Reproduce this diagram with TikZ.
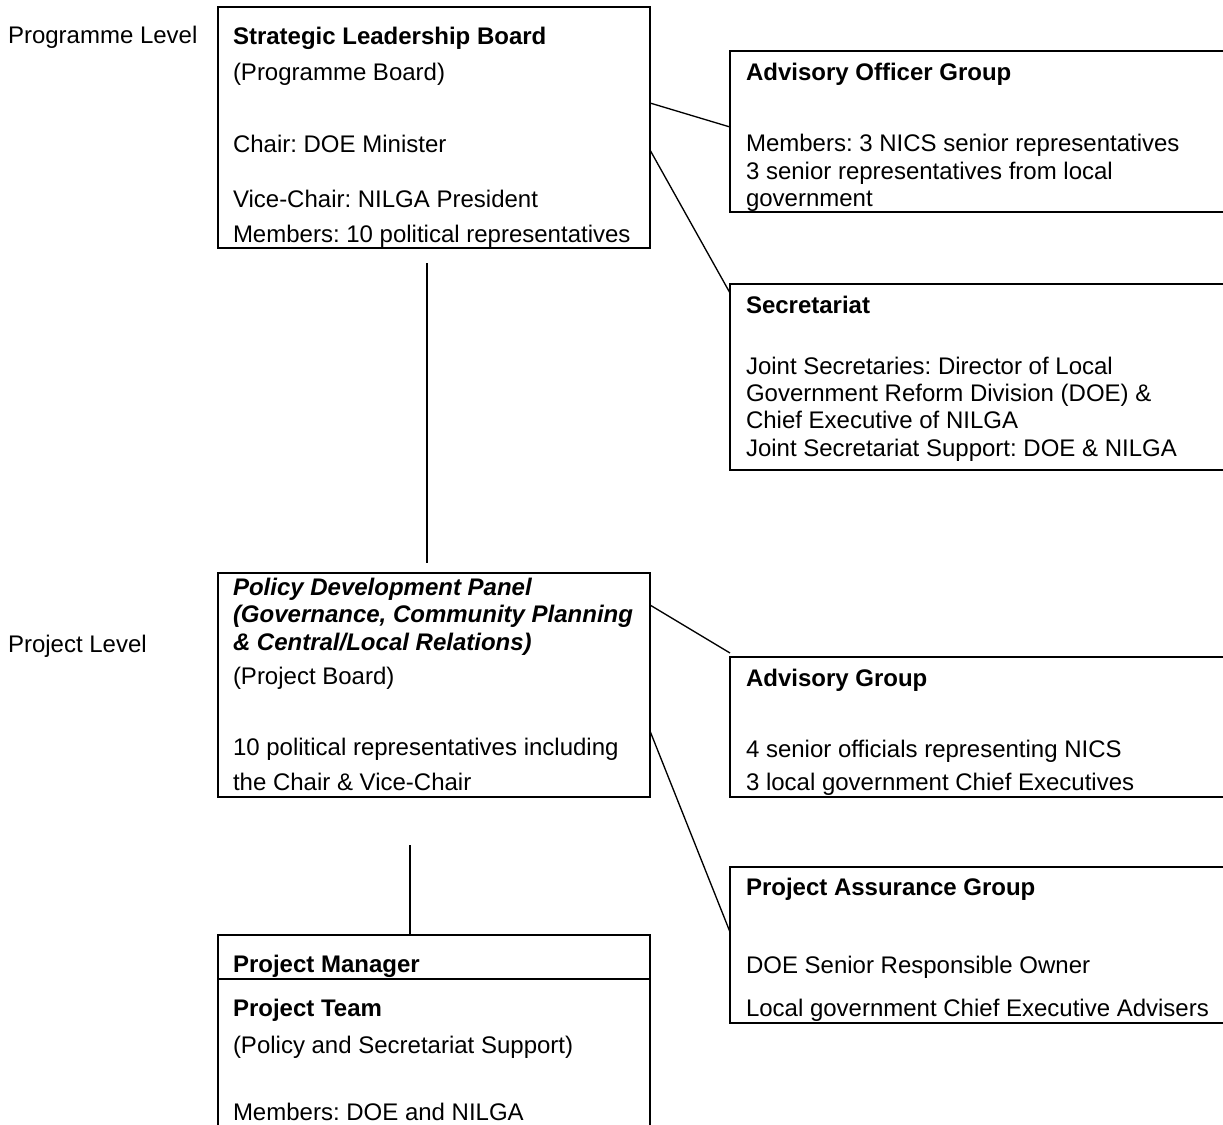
\documentclass[tikz,border=0pt]{standalone}
\usepackage{fontspec}
\setmainfont{Liberation Sans}
\usetikzlibrary{calc}
\frenchspacing
\begin{document}
\begin{tikzpicture}[x=0.75pt,y=-0.75pt,
  box/.style={draw, rectangle, inner sep=0pt, outer sep=0pt, anchor=north west, line width=1pt},
  txt/.style={anchor=base west, inner sep=0pt, outer sep=0pt, font=\fontsize{18pt}{21pt}\selectfont},
  link/.style={draw, line width=1pt}]
\useasboundingbox (0,0) rectangle (1223,1124);
\clip (0,0) rectangle (1223,1124);

% level labels
\node[txt] (lvl1) at (8,44) {Programme Level};
\node[txt] (lvl2) at (8,652) {Project Level};

% boxes
\node[box, minimum width={432*0.75pt}, minimum height={241*0.75pt}] (slb) at (218,7) {};
\node[box, minimum width={500*0.75pt}, minimum height={161*0.75pt}] (aog) at (730,51) {};
\node[box, minimum width={500*0.75pt}, minimum height={186*0.75pt}] (sec) at (730,284) {};
\node[box, minimum width={432*0.75pt}, minimum height={224*0.75pt}] (pdp) at (218,573) {};
\node[box, minimum width={500*0.75pt}, minimum height={140*0.75pt}] (ag) at (730,657) {};
\node[box, minimum width={500*0.75pt}, minimum height={156*0.75pt}] (pag) at (730,867) {};
\node[box, minimum width={432*0.75pt}, minimum height={200*0.75pt}] (pm) at (218,935) {};
\draw[link] ($(pm.north west)+(0,44)$) -- ($(pm.north east)+(0,44)$);

% connectors
\draw[link] ($(slb.north east)+(0,96)$) -- ($(aog.north west)+(0,76)$);
\draw[link] ($(slb.north east)+(0,143)$) -- ($(sec.north west)+(0,9)$);
\draw[link] ($(slb.south west)+(209,15)$) -- ($(pdp.north west)+(209,-10)$);
\draw[link] ($(pdp.north east)+(0,32)$) -- ($(ag.north west)+(0,-4)$);
\draw[link] ($(pdp.north east)+(0,158)$) -- ($(pag.north west)+(0,65)$);
\draw[link] ($(pdp.south west)+(192,48)$) -- ($(pm.north west)+(192,0)$);

% Strategic Leadership Board
\node[txt] (slb1) at (233,45) {\textbf{Strategic Leadership Board}};
\node[txt] (slb2) at (233,80) {(Programme Board)};
\node[txt] (slb3) at (233,152) {Chair: DOE Minister};
\node[txt] (slb4) at (233,207) {Vice-Chair: NILGA President};
\node[txt] (slb5) at (233,242) {Members: 10 political representatives};

% Advisory Officer Group
\node[txt] (aog1) at (746,80) {\textbf{Advisory Officer Group}};
\node[txt] (aog2) at (746,151.5) {Members: 3 NICS senior representatives};
\node[txt] (aog3) at (746,179) {3 senior representatives from local};
\node[txt] (aog4) at (746,206.5) {government};

% Secretariat
\node[txt] (sec1) at (746,313) {\textbf{Secretariat}};
\node[txt] (sec2) at (746,374.5) {Joint Secretaries: Director of Local};
\node[txt] (sec3) at (746,401.7) {Government Reform Division (DOE) \&};
\node[txt] (sec4) at (746,428.8) {Chief Executive of NILGA};
\node[txt] (sec5) at (746,456.3) {Joint Secretariat Support: DOE \& NILGA};

% Policy Development Panel
\node[txt] (pdp1) at (233,595) {\textbf{\itshape Policy Development Panel}};
\node[txt] (pdp2) at (233,622.5) {\textbf{\itshape (Governance, Community Planning}};
\node[txt] (pdp3) at (233,650) {\textbf{\itshape \& Central/Local Relations)}};
\node[txt] (pdp4) at (233,684) {(Project Board)};
\node[txt] (pdp5) at (233,755) {10 political representatives including};
\node[txt] (pdp6) at (233,790) {the Chair \& Vice-Chair};

% Advisory Group
\node[txt] (ag1) at (746,686.5) {\textbf{Advisory Group}};
\node[txt] (ag2) at (746,757) {4 senior officials representing NICS};
\node[txt] (ag3) at (746,790) {3 local government Chief Executives};

% Project Assurance Group
\node[txt] (pag1) at (746,895) {\textbf{Project Assurance Group}};
\node[txt] (pag2) at (746,973.3) {DOE Senior Responsible Owner};
\node[txt] (pag3) at (746,1016.5) {Local government Chief Executive Advisers};

% Project Manager / Team
\node[txt] (pm1) at (233,972.5) {\textbf{Project Manager}};
\node[txt] (pm2) at (233,1016.5) {\textbf{Project Team}};
\node[txt] (pm3) at (233,1053) {(Policy and Secretariat Support)};
\node[txt] (pm4) at (233,1120) {Members: DOE and NILGA};
\end{tikzpicture}
\end{document}
